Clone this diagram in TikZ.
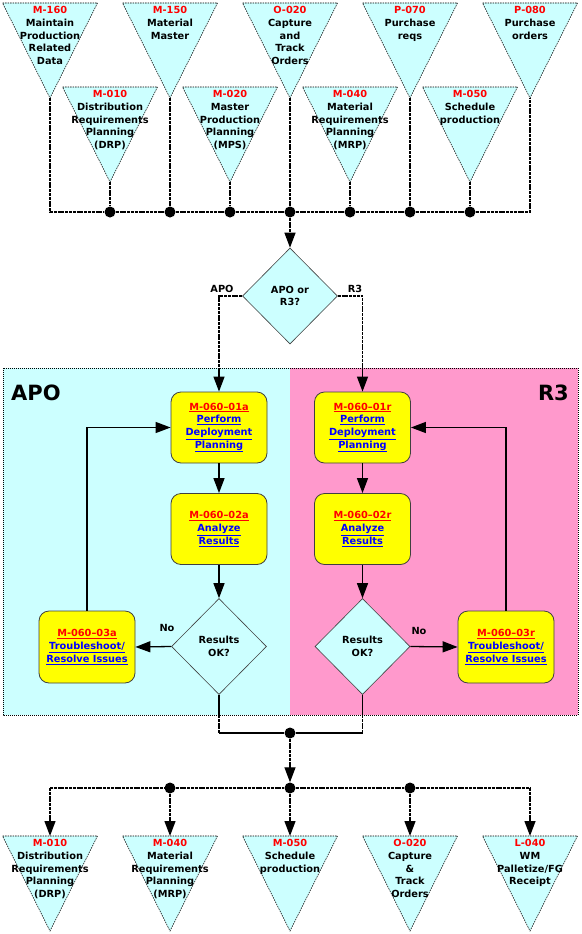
\documentclass[tikz,border=0pt]{standalone}
\usepackage{fontspec}
\setmainfont{DejaVu Sans}
\usetikzlibrary{shapes.geometric,arrows.meta}
\definecolor{cyanfill}{HTML}{CCFFFF}
\definecolor{pinkfill}{HTML}{FF99CC}
\definecolor{boxyellow}{HTML}{FFFF00}
\definecolor{codered}{HTML}{FF0000}
\definecolor{linkblue}{HTML}{0000FF}
\newcommand\lnk[1]{\underline{#1}}
\newcommand\rc[1]{{\color{codered}#1}}
\newcommand\tritask[4]{%
  \path[tri] (#2-47.5,#3) -- (#2+47.5,#3) -- (#2,#3+95) -- cycle;
  \coordinate (#1) at (#2,#3+95);
  \coordinate (#1top) at (#2,#3);
  \node[tritext] (#1t) at (#2,#3+3.2) {#4};}
\begin{document}
\begin{tikzpicture}[x=1pt,y=-1pt,
  tri/.style={fill=cyanfill,draw=black,line width=0.6pt,dash pattern=on 1.5pt off 1pt},
  tritext/.style={anchor=north,align=center,inner sep=0pt,font=\fontsize{9.8}{12.7}\selectfont\bfseries},
  dline/.style={draw=black,line width=1.3pt,dash pattern=on 3pt off 0.8pt},
  sline/.style={draw=black,line width=1.3pt},
  arr/.style={-{Triangle[length=15pt,width=11pt]}},
  dot/.style={circle,fill=black,inner sep=0pt,minimum size=11pt},
  task/.style={rectangle,rounded corners=10pt,fill=boxyellow,draw=black!75,line width=0.8pt,minimum width=96pt,minimum height=71pt,align=center,inner sep=1pt,font=\fontsize{9.8}{12.7}\selectfont\bfseries},
  dec/.style={diamond,fill=cyanfill,draw=black!75,line width=0.6pt,minimum width=95pt,minimum height=96pt,inner sep=0pt,align=center,font=\fontsize{9.8}{12.7}\selectfont\bfseries},
  lbl/.style={font=\fontsize{9.8}{11}\selectfont\bfseries,inner sep=0pt},
  big/.style={font=\fontsize{21}{24}\selectfont\bfseries,inner sep=0pt}]
\useasboundingbox (0,0) rectangle (581,934);

% panels
\path[fill=cyanfill] (3,368) rectangle (290,715);
\path[fill=pinkfill] (290,368) rectangle (578,715);
\draw[black,line width=0.6pt,dash pattern=on 1pt off 1pt] (3,368) rectangle (578,715);
\node[big,anchor=west] (apol) at (11,393) {APO};
\node[big,anchor=east] (r3l) at (569,393) {R3};

% top triangles
\tritask{m160}{50}{3}{\rc{M-160}\\Maintain\\Production\\Related\\Data}
\tritask{m150}{170}{3}{\rc{M-150}\\Material\\Master}
\tritask{o020}{290}{3}{\rc{O-020}\\Capture\\and\\Track\\Orders}
\tritask{p070}{410}{3}{\rc{P-070}\\Purchase\\reqs}
\tritask{p080}{530}{3}{\rc{P-080}\\Purchase\\orders}
\tritask{m010}{110}{87}{\rc{M-010}\\Distribution\\Requirements\\Planning\\(DRP)}
\tritask{m020}{230}{87}{\rc{M-020}\\Master\\Production\\Planning\\(MPS)}
\tritask{m040}{350}{87}{\rc{M-040}\\Material\\Requirements\\Planning\\(MRP)}
\tritask{m050}{470}{87}{\rc{M-050}\\Schedule\\production}

% top bus
\node[dot] (b110) at (110,212) {};
\node[dot] (b170) at (170,212) {};
\node[dot] (b230) at (230,212) {};
\node[dot] (b290) at (290,212) {};
\node[dot] (b350) at (350,212) {};
\node[dot] (b410) at (410,212) {};
\node[dot] (b470) at (470,212) {};
\draw[dline] (m160) |- (b110) -- (b170) -- (b230) -- (b290) -- (b350) -- (b410) -- (b470) -| (p080);
\draw[dline] (m010) -- (b110);
\draw[dline] (m150) -- (b170);
\draw[dline] (m020) -- (b230);
\draw[dline] (o020) -- (b290);
\draw[dline] (m040) -- (b350);
\draw[dline] (p070) -- (b410);
\draw[dline] (m050) -- (b470);

% decision APO or R3
\node[dec] (q) at (290,296) {APO or\\R3?};
\draw[dline,arr] (b290) -- (q.north);

% APO side
\node[task] (a1) at (219,427.5) {\rc{\lnk{M-060–01a}}\\{\color{linkblue}\lnk{Perform}}\\{\color{linkblue}\lnk{Deployment}}\\{\color{linkblue}\lnk{Planning}}};
\node[task] (a2) at (219,529) {\rc{\lnk{M-060–02a}}\\{\color{linkblue}\lnk{Analyze}}\\{\color{linkblue}\lnk{Results}}};
\node[dec] (ad) at (219,646.5) {Results\\OK?};
\node[task,minimum height=72pt] (a3) at (87,647) {\rc{\lnk{M-060–03a}}\\{\color{linkblue}\lnk{Troubleshoot/}}\\{\color{linkblue}\lnk{Resolve Issues}}};

% R3 side
\node[task] (r1) at (362.5,427.5) {\rc{\lnk{M-060–01r}}\\{\color{linkblue}\lnk{Perform}}\\{\color{linkblue}\lnk{Deployment}}\\{\color{linkblue}\lnk{Planning}}};
\node[task] (r2) at (362.5,529) {\rc{\lnk{M-060–02r}}\\{\color{linkblue}\lnk{Analyze}}\\{\color{linkblue}\lnk{Results}}};
\node[dec] (rd) at (362.5,646.5) {Results\\OK?};
\node[task,minimum height=72pt] (r3b) at (506,647) {\rc{\lnk{M-060–03r}}\\{\color{linkblue}\lnk{Troubleshoot/}}\\{\color{linkblue}\lnk{Resolve Issues}}};

% branches from q
\coordinate (ain) at (219,368);
\coordinate (rin) at (362.5,368);
\draw[dline] (q.west) -| (ain);
\draw[dline] (q.east) -| (rin);
\draw[sline,arr] (ain) -- (a1.north);
\draw[sline,arr] (rin) -- (r1.north);
\node[lbl] (lapo) at (222,288.5) {APO};
\node[lbl] (lr3) at (355,288.5) {R3};

% panel flows
\draw[sline,arr] (a1.south) -- (a2.north);
\draw[sline,arr] (a2.south) -- (ad.north);
\draw[sline,arr] (ad.west) -- (a3.east);
\draw[sline,arr] (a3.north) |- (a1.west);
\node[lbl] (lno1) at (167,628) {No};
\draw[sline,arr] (r1.south) -- (r2.north);
\draw[sline,arr] (r2.south) -- (rd.north);
\draw[sline,arr] (rd.east) -- (r3b.west);
\draw[sline,arr] (r3b.north) |- (r1.east);
\node[lbl] (lno2) at (419,631) {No};

% merge
\node[dot] (jb1) at (290,733) {};
\node[dot] (jb2) at (290,788) {};
\coordinate (aout) at (219,715);
\coordinate (rout) at (362.5,715);
\coordinate (acor) at (219,733);
\coordinate (rcor) at (362.5,733);
\draw[sline] (ad.south) -- (aout);
\draw[sline] (rd.south) -- (rout);
\draw[dline] (aout) -- (acor);
\draw[dline] (rout) -- (rcor);
\draw[sline] (acor) -- (jb1) -- (rcor);
\draw[dline,arr] (jb1) -- (jb2);

% bottom triangles
\tritask{o010}{50}{836}{\rc{M-010}\\Distribution\\Requirements\\Planning\\(DRP)}
\tritask{o040}{170}{836}{\rc{M-040}\\Material\\Requirements\\Planning\\(MRP)}
\tritask{o050}{290}{836}{\rc{M-050}\\Schedule\\production}
\tritask{o020b}{410}{836}{\rc{O-020}\\Capture\\\&\\Track\\Orders}
\tritask{l040}{530}{836}{\rc{L-040}\\WM\\Palletize/FG\\Receipt}

% bottom bus
\node[dot] (d170) at (170,788) {};
\node[dot] (d410) at (410,788) {};
\coordinate (c50) at (50,788);
\coordinate (c530) at (530,788);
\draw[dline] (c50) -- (d170) -- (jb2) -- (d410) -- (c530);
\draw[dline,arr] (c50) -- (o010top);
\draw[dline,arr] (d170) -- (o040top);
\draw[dline,arr] (jb2) -- (o050top);
\draw[dline,arr] (d410) -- (o020btop);
\draw[dline,arr] (c530) -- (l040top);
\end{tikzpicture}
\end{document}
